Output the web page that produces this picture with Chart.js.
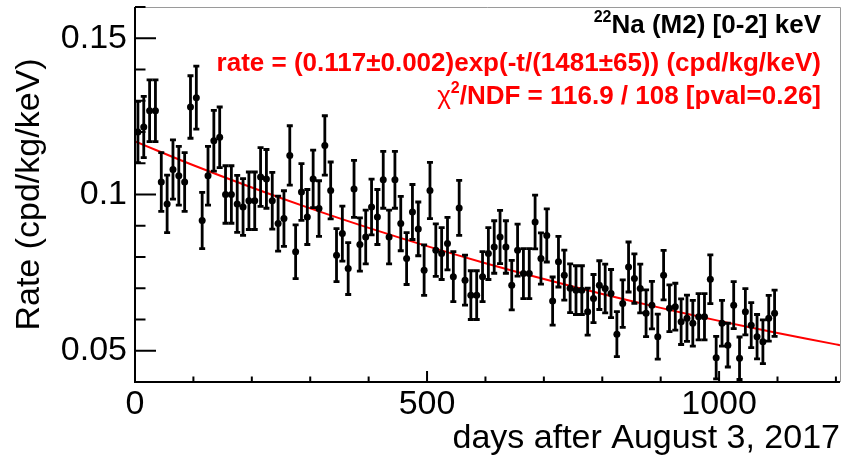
<!DOCTYPE html>
<html>
<head>
<meta charset="utf-8">
<script src="https://cdn.jsdelivr.net/npm/chart.js@4.4.0/dist/chart.umd.min.js"></script>
<style>
  html, body { margin: 0; padding: 0; background: #fff; }
  #wrap { width: 845px; height: 459px; }
</style>
</head>
<body>
<div id="wrap"><canvas id="chart" width="845" height="459"></canvas></div>
<script>
// --- data ---
const days = [
  5, 15, 25, 35, 45, 55, 65, 75, 85, 95,
  105, 115, 125, 135, 145, 155, 165, 175, 185, 195,
  205, 215, 225, 235, 245, 255, 265, 275, 285, 295,
  305, 315, 325, 335, 345, 355, 365, 375, 385, 395,
  405, 415, 425, 435, 445, 455, 465, 475, 485, 495,
  505, 515, 525, 535, 545, 555, 565, 575, 585, 595,
  605, 615, 625, 635, 645, 655, 665, 675, 685, 695,
  705, 715, 725, 735, 745, 755, 765, 775, 785, 795,
  805, 815, 825, 835, 845, 855, 865, 875, 885, 895,
  905, 915, 925, 935, 945, 955, 965, 975, 985, 995,
  1005, 1015, 1025, 1035, 1045, 1055, 1065, 1075, 1085, 1095
];
const rates = [
  0.1200, 0.1216, 0.1268, 0.1268, 0.1040, 0.0970, 0.1080, 0.1060, 0.1040, 0.1280,
  0.1310, 0.0917, 0.1060, 0.1172, 0.1183, 0.1000, 0.1000, 0.0970, 0.0960, 0.0980,
  0.0980, 0.1056, 0.1050, 0.0980, 0.0907, 0.0923, 0.1125, 0.0817, 0.1008, 0.0928,
  0.1050, 0.0955, 0.1157, 0.1013, 0.0806, 0.0875, 0.0763, 0.1018, 0.0840, 0.0864,
  0.0960, 0.0928, 0.1047, 0.0864, 0.1047, 0.0907, 0.0795, 0.0944, 0.0890, 0.0758,
  0.1013, 0.0822, 0.0811, 0.0843, 0.0737, 0.0957, 0.0726, 0.0678, 0.0678, 0.0737,
  0.0811, 0.0832, 0.0864, 0.0832, 0.0710, 0.0822, 0.0747, 0.0747, 0.0912, 0.0795,
  0.0869, 0.0659, 0.0785, 0.0742, 0.0700, 0.0694, 0.0694, 0.0625, 0.0667, 0.0710,
  0.0699, 0.0683, 0.0553, 0.0651, 0.0768, 0.0731, 0.0699, 0.0620, 0.0646, 0.0545,
  0.0742, 0.0636, 0.0641, 0.0593, 0.0604, 0.0588, 0.0609, 0.0609, 0.0729, 0.0478,
  0.0588, 0.0518, 0.0646, 0.0476, 0.0625, 0.0582, 0.0545, 0.0529, 0.0604, 0.0620
];
const rateErrors = [
  0.0098, 0.0098, 0.0099, 0.0099, 0.0094, 0.0092, 0.0095, 0.0094, 0.0094, 0.0100,
  0.0101, 0.0090, 0.0094, 0.0097, 0.0097, 0.0092, 0.0092, 0.0091, 0.0091, 0.0092,
  0.0092, 0.0094, 0.0094, 0.0091, 0.0088, 0.0089, 0.0095, 0.0086, 0.0091, 0.0088,
  0.0092, 0.0089, 0.0095, 0.0091, 0.0085, 0.0088, 0.0083, 0.0091, 0.0085, 0.0086,
  0.0089, 0.0088, 0.0091, 0.0086, 0.0091, 0.0087, 0.0083, 0.0088, 0.0086, 0.0081,
  0.0090, 0.0084, 0.0083, 0.0084, 0.0080, 0.0088, 0.0080, 0.0078, 0.0078, 0.0080,
  0.0083, 0.0084, 0.0085, 0.0084, 0.0079, 0.0083, 0.0080, 0.0080, 0.0086, 0.0082,
  0.0085, 0.0077, 0.0081, 0.0080, 0.0078, 0.0078, 0.0078, 0.0075, 0.0077, 0.0078,
  0.0078, 0.0077, 0.0072, 0.0076, 0.0080, 0.0079, 0.0078, 0.0075, 0.0076, 0.0072,
  0.0079, 0.0075, 0.0075, 0.0073, 0.0074, 0.0073, 0.0074, 0.0074, 0.0078, 0.0068,
  0.0073, 0.0070, 0.0075, 0.0068, 0.0074, 0.0072, 0.0071, 0.0070, 0.0073, 0.0074
];
const xTickValues = [0, 500, 1000];
const xTickLabels = ['0', '500', '1000'];
const yTickValues = [0.05, 0.1, 0.15];
const yTickLabels = ['0.05', '0.1', '0.15'];
// fit shown in the legend: rate = A exp(-t/tau)
const fitAmplitude = 0.117;
const fitTau = 1481;
const fitDays = [0, 100, 200, 300, 400, 500, 600, 700, 800, 900, 1000, 1100, 1200, 1207];

const FONT = "'Liberation Sans', Arial, Helvetica, sans-serif";

// error bars with little caps, drawn through the chart scales
const errorBars = {
  id: 'errorBars',
  afterDatasetsDraw(chart) {
    const { ctx, chartArea, scales: { x, y } } = chart;
    ctx.save();
    ctx.beginPath();
    ctx.rect(chartArea.left, chartArea.top, chartArea.right - chartArea.left, chartArea.bottom - chartArea.top);
    ctx.clip();
    ctx.strokeStyle = '#000';
    ctx.lineWidth = 2.8;
    days.forEach((d, i) => {
      const px = x.getPixelForValue(d);
      const hi = y.getPixelForValue(rates[i] + rateErrors[i]);
      const lo = y.getPixelForValue(rates[i] - rateErrors[i]);
      ctx.beginPath();
      ctx.moveTo(px, hi); ctx.lineTo(px, lo);
      ctx.moveTo(px - 3, hi); ctx.lineTo(px + 3, hi);
      ctx.moveTo(px - 3, lo); ctx.lineTo(px + 3, lo);
      ctx.stroke();
    });
    ctx.restore();
  }
};

// ROOT style frame: axes with inward ticks, thin grey top/right
const frame = {
  id: 'frame',
  afterDraw(chart) {
    const { ctx, chartArea: a, scales: { x, y } } = chart;
    ctx.save();
    ctx.strokeStyle = '#9a9a9a';
    ctx.lineWidth = 1;
    ctx.beginPath();
    ctx.moveTo(a.left, a.top + 0.5); ctx.lineTo(a.right + 0.5, a.top + 0.5);
    ctx.lineTo(a.right + 0.5, a.bottom);
    ctx.stroke();

    ctx.strokeStyle = '#000';
    ctx.lineWidth = 2;
    ctx.beginPath();
    ctx.moveTo(a.left, a.top); ctx.lineTo(a.left, a.bottom); ctx.lineTo(a.right, a.bottom);
    // x ticks every 100 days
    for (let v = 0; v <= 1200; v += 100) {
      const px = x.getPixelForValue(v);
      const len = v % 500 === 0 ? 11 : 5.5;
      ctx.moveTo(px, a.bottom); ctx.lineTo(px, a.bottom - len);
    }
    // y ticks every 0.01
    for (let k = 4; k <= 16; k++) {
      const py = y.getPixelForValue(k / 100);
      const len = k % 5 === 0 ? 21 : 10.5;
      ctx.moveTo(a.left, py); ctx.lineTo(a.left + len, py);
    }
    ctx.stroke();
    ctx.restore();
  }
};

function drawParts(ctx, parts, xRight, baseline) {
  let total = 0;
  parts.forEach(p => { ctx.font = p.font; p.w = ctx.measureText(p.text).width; total += p.w; });
  let xx = xRight - total;
  parts.forEach(p => {
    ctx.font = p.font;
    ctx.fillStyle = p.color;
    ctx.fillText(p.text, xx, baseline + (p.dy || 0));
    xx += p.w;
  });
}

const labels = {
  id: 'labels',
  afterDraw(chart) {
    const ctx = chart.ctx;
    ctx.save();
    ctx.textAlign = 'left';
    ctx.textBaseline = 'alphabetic';
    const big = 'bold 26px ' + FONT;
    const sup = 'bold 16px ' + FONT;
    drawParts(ctx, [
      { text: '22', font: sup, color: '#000', dy: -11 },
      { text: 'Na (M2) [0-2] keV', font: big, color: '#000' }
    ], 821, 33);
    drawParts(ctx, [
      { text: 'rate = (0.117\u00b10.002)exp(-t/(1481\u00b165)) (cpd/kg/keV)', font: big, color: '#ff0000' }
    ], 821, 71);
    drawParts(ctx, [
      { text: '\u03c7', font: '26px ' + FONT, color: '#ff0000' },
      { text: '2', font: sup, color: '#ff0000', dy: -11 },
      { text: '/NDF = 116.9 / 108 [pval=0.26]', font: big, color: '#ff0000' }
    ], 821, 104);
    ctx.restore();
  }
};

const points = days.map((d, i) => ({ x: d, y: rates[i] }));
const fitPoints = fitDays.map(d => ({ x: d, y: fitAmplitude * Math.exp(-d / fitTau) }));

new Chart(document.getElementById('chart'), {
  type: 'scatter',
  data: {
    datasets: [
      {
        label: 'data',
        data: points,
        pointRadius: 3.5,
        pointBackgroundColor: '#000',
        pointBorderWidth: 0,
        order: 1
      },
      {
        type: 'line',
        label: 'fit',
        data: fitPoints,
        borderColor: '#ff0000',
        borderWidth: 2,
        pointRadius: 0,
        tension: 0.4,
        fill: false,
        order: 2
      }
    ]
  },
  options: {
    responsive: false,
    animation: false,
    devicePixelRatio: 1,
    layout: { padding: { left: 0, right: 5, top: 7, bottom: 0 } },
    plugins: { legend: { display: false }, tooltip: { enabled: false } },
    scales: {
      x: {
        type: 'linear',
        min: 0,
        max: 1207,
        grid: { display: false, drawTicks: false },
        border: { display: false },
        afterBuildTicks: s => { s.ticks = xTickValues.map(v => ({ value: v })); },
        afterFit: s => { s.height = 77; s.paddingLeft = 0; s.paddingRight = 0; },
        ticks: {
          autoSkip: false,
          maxRotation: 0,
          padding: 2,
          color: '#000',
          font: { family: FONT, size: 34 },
          callback: (v, i) => xTickLabels[i]
        },
        title: {
          display: true,
          text: 'days after August 3, 2017',
          align: 'end',
          color: '#000',
          padding: { top: 0, bottom: 0 },
          font: { family: FONT, size: 34 }
        }
      },
      y: {
        type: 'linear',
        min: 0.04,
        max: 0.16,
        grid: { display: false, drawTicks: false },
        border: { display: false },
        afterBuildTicks: s => { s.ticks = yTickValues.map(v => ({ value: v })); },
        afterFit: s => { s.width = 135; s.paddingTop = 0; s.paddingBottom = 0; },
        ticks: {
          padding: 8,
          color: '#000',
          font: { family: FONT, size: 34 },
          callback: (v, i) => yTickLabels[i]
        },
        title: {
          display: true,
          text: 'Rate (cpd/kg/keV)',
          color: '#000',
          padding: { top: 9, bottom: 0 },
          font: { family: FONT, size: 34 }
        }
      }
    }
  },
  plugins: [errorBars, frame, labels]
});
</script>
</body>
</html>
